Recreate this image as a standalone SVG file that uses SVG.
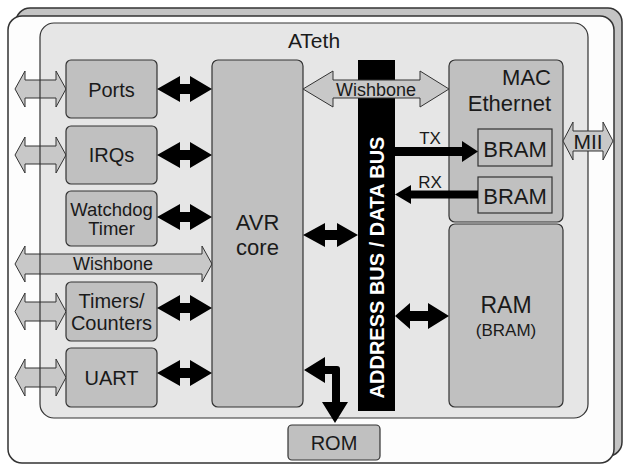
<svg xmlns="http://www.w3.org/2000/svg" width="623" height="464" viewBox="0 0 623 464">
<style>
text{font-family:"Liberation Sans",Arial,sans-serif;fill:#1a1a1a;text-anchor:middle}
.node{fill:#c0c0c0;stroke:#333;stroke-width:1.2}
.garrow{fill:#c8c8c8;stroke:#333;stroke-width:1}
.barrow{fill:#000;stroke:none}
.t20{font-size:20px}
.t22{font-size:22px}
</style>
<rect x="0" y="0" width="623" height="464" fill="#fff"/>
<g id="frame">
<rect x="16" y="8" width="606" height="448" rx="14" fill="#c4c4c4" stroke="#333" stroke-width="1.5"/>
<rect x="8" y="16" width="606" height="447" rx="14" fill="#fdfdfd" stroke="#333" stroke-width="1.5"/>
</g>
<g id="ateth">
<rect x="40" y="23" width="548" height="395" rx="14" fill="#e6e6e6"/>
</g>
<g id="connectors-ext">
<path class="garrow" d="M15,89 L25,71 L25,80 L56,80 L56,71 L66,89 L56,107 L56,98 L25,98 L25,107 Z"/>
<path class="garrow" d="M15,155 L25,137 L25,146 L56,146 L56,137 L66,155 L56,173 L56,164 L25,164 L25,173 Z"/>
<path class="garrow" d="M15,311.5 L25,293 L25,302 L56,302 L56,293 L66,311.5 L56,330 L56,321 L25,321 L25,330 Z"/>
<path class="garrow" d="M15,377.5 L25,359 L25,368 L56,368 L56,359 L66,377.5 L56,396 L56,387 L25,387 L25,396 Z"/>
<path class="garrow" d="M15,264 L25,246 L25,254 L202,254 L202,246 L212,264 L202,282 L202,274 L25,274 L25,282 Z"/>
</g>
<rect x="40" y="23" width="548" height="395" rx="14" fill="none" stroke="#333" stroke-width="1.2"/>
<text x="314" y="48" style="font-size:21px">ATeth</text>
<g id="ports"><rect class="node" x="66" y="60" width="91" height="58" rx="5"/><text class="t20" x="111.5" y="97">Ports</text></g>
<g id="irqs"><rect class="node" x="66" y="126" width="91" height="58" rx="5"/><text class="t20" x="111.5" y="162">IRQs</text></g>
<g id="watchdog"><rect class="node" x="66" y="191" width="91" height="55" rx="5"/><text x="111.5" y="216" style="font-size:18.5px">Watchdog</text><text x="111.5" y="235" style="font-size:18.5px">Timer</text></g>
<g id="timers"><rect class="node" x="66" y="282" width="91" height="59" rx="5"/><text class="t20" x="111.5" y="308">Timers/</text><text class="t20" x="111.5" y="330">Counters</text></g>
<g id="uart"><rect class="node" x="66" y="348" width="91" height="59" rx="5"/><text class="t20" x="111.5" y="385">UART</text></g>
<g id="avr"><rect class="node" x="212" y="60" width="91" height="347" rx="6"/><text class="t22" x="257.5" y="230">AVR</text><text class="t22" x="257.5" y="255">core</text></g>
<g id="mac"><rect class="node" x="449" y="60" width="114" height="162" rx="6"/>
<text class="t22" x="551" y="85" style="text-anchor:end">MAC</text><text class="t22" x="551" y="111" style="text-anchor:end">Ethernet</text></g>
<g id="bram-tx"><rect class="node" x="478" y="129" width="74" height="37" stroke-width="1"/><text class="t22" x="515" y="157">BRAM</text></g>
<g id="bram-rx"><rect class="node" x="478" y="177" width="74" height="36" stroke-width="1"/><text class="t22" x="515" y="204">BRAM</text></g>
<g id="ram"><rect class="node" x="449" y="224" width="114" height="183" rx="6"/><text x="506" y="313" style="font-size:23px">RAM</text><text x="506" y="336" style="font-size:17px">(BRAM)</text></g>
<g id="rom"><rect class="node" x="288" y="425" width="92" height="35" rx="4"/><text class="t20" x="334" y="450">ROM</text></g>
<g id="bus"><rect x="358" y="60" width="37" height="351" fill="#000"/>
<text transform="translate(384,267.5) rotate(-90)" style="font-size:20px;font-weight:bold;fill:#fff">ADDRESS BUS / DATA BUS</text></g>
<g id="connectors">
<path class="barrow" d="M157,89 L180,76 L180,84 L190,84 L190,76 L212,89 L190,102 L190,94 L180,94 L180,102 Z"/>
<path class="barrow" d="M157,155 L180,142 L180,150 L190,150 L190,142 L212,155 L190,168 L190,160 L180,160 L180,168 Z"/>
<path class="barrow" d="M157,217 L180,204 L180,212 L190,212 L190,204 L212,217 L190,230 L190,222 L180,222 L180,230 Z"/>
<path class="barrow" d="M157,308 L180,295 L180,303 L190,303 L190,295 L212,308 L190,321 L190,313 L180,313 L180,321 Z"/>
<path class="barrow" d="M157,373 L180,360 L180,368 L190,368 L190,360 L212,373 L190,386 L190,378 L180,378 L180,386 Z"/>
<path class="barrow" d="M303,235 L325,223 L325,230 L337,230 L337,223 L358,235 L337,247 L337,240 L325,240 L325,247 Z"/>
<path class="barrow" d="M395,316 L410,303 L410,311 L428,311 L428,303 L449,316 L428,329 L428,321 L410,321 L410,329 Z"/>
<path class="barrow" d="M395,147 L462,147 L462,141 L478,151.5 L462,162 L462,156 L395,156 Z"/>
<path class="barrow" d="M478,190.5 L411,190.5 L411,185 L395,194.5 L411,204 L411,198.5 L478,198.5 Z"/>
<path class="barrow" d="M304,370 L325,357 L325,366 L337,366 Q340,366 340,369 L340,402 L348,402 L335,423 L322,402 L332,402 L332,374 L325,374 L325,383 Z"/>
<path class="garrow" d="M303,89 L333,71 L333,80 L420,80 L420,71 L449,89 L420,107 L420,98 L333,98 L333,107 Z"/>
<text x="376" y="96" style="font-size:18px">Wishbone</text>
<text x="113" y="270" style="font-size:18px">Wishbone</text>
<path class="garrow" d="M563,141 L573,122 L573,131 L603,131 L603,122 L613,141 L603,160 L603,151 L573,151 L573,160 Z"/>
<text x="588" y="149" style="font-size:21px">MII</text>
<text x="430" y="144" style="font-size:17px">TX</text>
<text x="430" y="188" style="font-size:17px">RX</text>
</g>
</svg>
